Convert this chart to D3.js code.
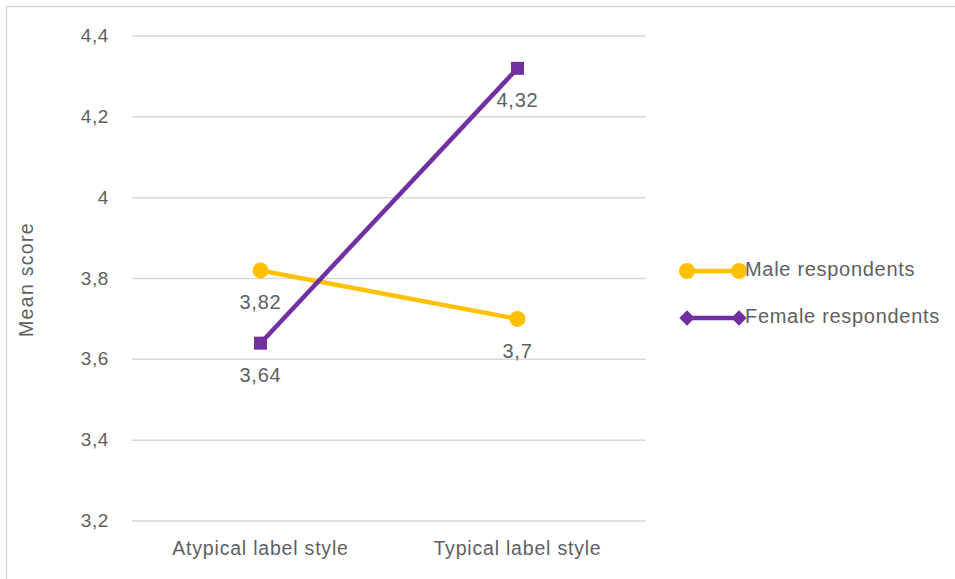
<!DOCTYPE html>
<html>
<head>
<meta charset="utf-8">
<script src="https://cdn.jsdelivr.net/npm/d3@7"></script>
<style>
  body { margin: 0; background: #fff; }
  svg text { font-family: "Liberation Sans Narrow", "Arial Narrow", "Liberation Sans", sans-serif; fill: #5f5f5f; }
</style>
</head>
<body>
<svg id="chart" width="955" height="579"></svg>
<script>
// data
const categories = ["Atypical label style", "Typical label style"];
const maleScores = [3.82, 3.7];
const femaleScores = [3.64, 4.32];
const yTicks = [3.2, 3.4, 3.6, 3.8, 4, 4.2, 4.4];
const seriesNames = ["Male respondents", "Female respondents"];

const svg = d3.select("#chart");
const fmt = d => String(d).replace(".", ",");

// outer frame (only top/left visible)
svg.append("rect")
    .attr("x", 6.5).attr("y", 6.5)
    .attr("width", 1000).attr("height", 1000)
    .attr("fill", "none")
    .attr("stroke", "#d9d9d9")
    .attr("stroke-width", 1.5);

const plot = { left: 132, right: 646, top: 36, bottom: 521 };

const x = d3.scaleBand()
    .domain(categories)
    .range([plot.left, plot.right]);

const y = d3.scaleLinear()
    .domain([3.2, 4.4])
    .range([plot.bottom, plot.top]);

// gridlines
svg.append("g")
    .selectAll("line")
    .data(yTicks)
    .enter()
    .append("line")
    .attr("x1", plot.left).attr("x2", plot.right)
    .attr("y1", d => y(d)).attr("y2", d => y(d))
    .attr("stroke", "#d9d9d9")
    .attr("stroke-width", 1.5);

// y tick labels
svg.append("g")
    .selectAll("text")
    .data(yTicks)
    .enter()
    .append("text")
    .attr("x", 109)
    .attr("y", d => y(d) + 6)
    .attr("text-anchor", "end")
    .attr("font-size", 19)
    .attr("letter-spacing", 0.6)
    .text(fmt);

// x labels
svg.append("g")
    .selectAll("text")
    .data(categories)
    .enter()
    .append("text")
    .attr("x", d => x(d) + x.bandwidth() / 2)
    .attr("y", 555)
    .attr("text-anchor", "middle")
    .attr("font-size", 19.5)
    .attr("letter-spacing", 0.8)
    .text(d => d);

// y axis title
svg.append("text")
    .attr("transform", `translate(33,${(plot.top + plot.bottom) / 2 + 1}) rotate(-90)`)
    .attr("text-anchor", "middle")
    .attr("font-size", 19.5)
    .attr("letter-spacing", 1.3)
    .text("Mean score");

const cx = d => x(d) + x.bandwidth() / 2;
const line = d3.line().x(d => cx(d.cat)).y(d => y(d.v));

const male = categories.map((c, i) => ({ cat: c, v: maleScores[i] }));
const female = categories.map((c, i) => ({ cat: c, v: femaleScores[i] }));

const maleColor = "#FFC000";
const femaleColor = "#7030A0";

// male series
svg.append("path")
    .datum(male)
    .attr("d", line)
    .attr("fill", "none")
    .attr("stroke", maleColor)
    .attr("stroke-width", 4.5);
svg.append("g")
    .selectAll("circle")
    .data(male)
    .enter()
    .append("circle")
    .attr("cx", d => cx(d.cat))
    .attr("cy", d => y(d.v))
    .attr("r", 8)
    .attr("fill", maleColor);

// female series
svg.append("path")
    .datum(female)
    .attr("d", line)
    .attr("fill", "none")
    .attr("stroke", femaleColor)
    .attr("stroke-width", 4.5);
svg.append("g")
    .selectAll("rect")
    .data(female)
    .enter()
    .append("rect")
    .attr("x", d => cx(d.cat) - 6.5)
    .attr("y", d => y(d.v) - 6.5)
    .attr("width", 13)
    .attr("height", 13)
    .attr("fill", femaleColor);

// data labels (below points)
svg.append("g")
    .selectAll("text")
    .data(male.concat(female))
    .enter()
    .append("text")
    .attr("x", d => cx(d.cat))
    .attr("y", d => y(d.v) + 39)
    .attr("text-anchor", "middle")
    .attr("font-size", 20)
    .attr("letter-spacing", 0.8)
    .text(d => fmt(d.v));

// legend
const legend = svg.append("g");
const legendY = [271, 318];
[maleColor, femaleColor].forEach((col, i) => {
    const g = legend.append("g").attr("transform", `translate(0,${legendY[i]})`);
    g.append("line")
        .attr("x1", 687).attr("x2", 739)
        .attr("y1", 0).attr("y2", 0)
        .attr("stroke", col).attr("stroke-width", 4.5);
    [687, 739].forEach(px => {
        if (i === 0) {
            g.append("circle").attr("cx", px).attr("cy", 0).attr("r", 8).attr("fill", col);
        } else {
            g.append("path")
                .attr("d", d3.symbol(d3.symbolDiamond2, 150)())
                .attr("transform", `translate(${px},0)`)
                .attr("fill", col);
        }
    });
    g.append("text")
        .attr("x", 745)
        .attr("y", 5)
        .attr("font-size", 20)
        .attr("letter-spacing", 0.7)
        .text(seriesNames[i]);
});
</script>
</body>
</html>
